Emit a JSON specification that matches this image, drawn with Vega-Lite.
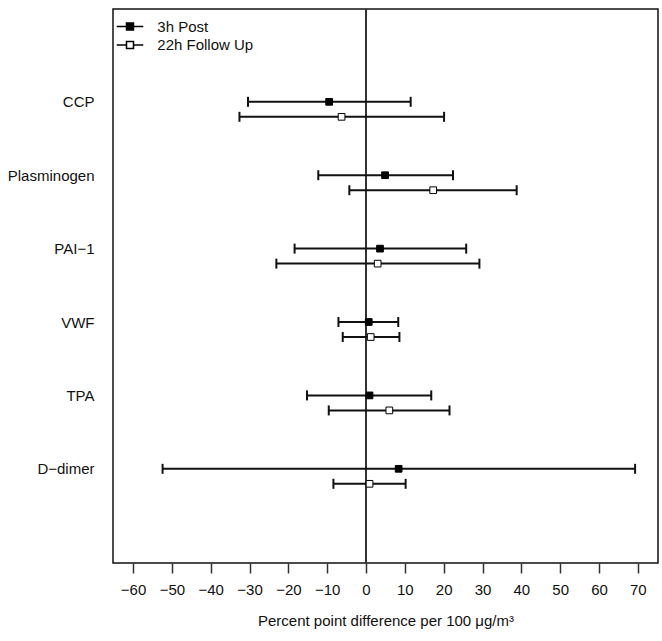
{
  "$schema": "https://vega.github.io/schema/vega-lite/v6.json",
  "width": 545,
  "height": 554,
  "autosize": {"type": "none"},
  "padding": {"left": 113, "top": 9, "right": 4, "bottom": 78},
  "background": "white",
  "config": {
    "font": "Liberation Sans",
    "view": {"stroke": "#111", "strokeWidth": 1.5},
    "axis": {"labelFont": "Liberation Sans", "titleFont": "Liberation Sans", "labelFontSize": 15, "titleFontSize": 15, "labelColor": "#111", "titleColor": "#111", "titleFontWeight": "normal", "grid": false}
  },
  "data": {
    "values": [
      {"marker": "CCP", "period": "3h Post", "est": -9.5, "lo": -30.4, "hi": 11.5},
      {"marker": "CCP", "period": "22h Follow Up", "est": -6.3, "lo": -32.6, "hi": 20.1},
      {"marker": "Plasminogen", "period": "3h Post", "est": 4.9, "lo": -12.3, "hi": 22.4},
      {"marker": "Plasminogen", "period": "22h Follow Up", "est": 17.3, "lo": -4.3, "hi": 38.8},
      {"marker": "PAI−1", "period": "3h Post", "est": 3.6, "lo": -18.4, "hi": 25.8},
      {"marker": "PAI−1", "period": "22h Follow Up", "est": 3.0, "lo": -23.1, "hi": 29.2},
      {"marker": "VWF", "period": "3h Post", "est": 0.7, "lo": -7.1, "hi": 8.3},
      {"marker": "VWF", "period": "22h Follow Up", "est": 1.2, "lo": -6.0, "hi": 8.6},
      {"marker": "TPA", "period": "3h Post", "est": 0.9, "lo": -15.2, "hi": 16.8},
      {"marker": "TPA", "period": "22h Follow Up", "est": 6.0, "lo": -9.6, "hi": 21.5},
      {"marker": "D−dimer", "period": "3h Post", "est": 8.4, "lo": -52.4, "hi": 69.3},
      {"marker": "D−dimer", "period": "22h Follow Up", "est": 0.9, "lo": -8.4, "hi": 10.2}
    ]
  },
  "layer": [
    {
      "mark": {"type": "rule", "color": "#333", "strokeWidth": 1.5},
      "encoding": {
        "x": {
          "datum": 0,
          "type": "quantitative",
          "scale": {"domain": [-65.17, 75.2], "nice": false, "zero": false},
          "axis": {
            "title": "Percent point difference per 100 μg/m³",
            "values": [-60, -55, -50, -45, -40, -35, -30, -25, -20, -15, -10, -5, 0, 5, 10, 15, 20, 25, 30, 35, 40, 45, 50, 55, 60, 65, 70],
            "domain": false,
            "tickSize": {"condition": {"test": "datum.value % 10 === 0", "value": 10}, "value": 5},
            "tickWidth": 1.5,
            "tickColor": "#333",
            "labelExpr": "datum.value % 10 === 0 ? datum.label : ''",
            "labelPadding": 9,
            "labelFlush": false,
            "labelOverlap": false,
            "labelBound": false,
            "titlePadding": 16
          }
        }
      }
    },
    {
      "mark": {"type": "rule", "color": "#111", "strokeWidth": 2},
      "encoding": {
        "x": {"field": "lo", "type": "quantitative"},
        "x2": {"field": "hi"},
        "y": {
          "field": "marker", "type": "nominal",
          "sort": ["CCP", "Plasminogen", "PAI−1", "VWF", "TPA", "D−dimer"],
          "scale": {"type": "band", "paddingInner": 0, "paddingOuter": 0.774, "align": 0.56},
          "axis": {"title": null, "ticks": false, "domain": false, "labelPadding": 19, "labelOffset": -7, "labelFontSize": 15}
        },
        "yOffset": {"field": "period", "type": "nominal", "sort": ["3h Post", "22h Follow Up"], "scale": {"type": "point", "range": [29.2, 44.2], "padding": 0}}
      }
    },
    {
      "mark": {"type": "point", "shape": "M0,-1V1", "size": 100, "stroke": "#111", "strokeWidth": 2, "filled": false, "opacity": 1},
      "encoding": {
        "x": {"field": "lo", "type": "quantitative"},
        "y": {"field": "marker", "type": "nominal", "sort": ["CCP", "Plasminogen", "PAI−1", "VWF", "TPA", "D−dimer"]},
        "yOffset": {"field": "period", "type": "nominal", "sort": ["3h Post", "22h Follow Up"]}
      }
    },
    {
      "mark": {"type": "point", "shape": "M0,-1V1", "size": 100, "stroke": "#111", "strokeWidth": 2, "filled": false, "opacity": 1},
      "encoding": {
        "x": {"field": "hi", "type": "quantitative"},
        "y": {"field": "marker", "type": "nominal", "sort": ["CCP", "Plasminogen", "PAI−1", "VWF", "TPA", "D−dimer"]},
        "yOffset": {"field": "period", "type": "nominal", "sort": ["3h Post", "22h Follow Up"]}
      }
    },
    {
      "mark": {"type": "point", "shape": "square", "size": 45, "filled": true, "stroke": "#000", "strokeWidth": 1, "opacity": 1},
      "encoding": {
        "x": {"field": "est", "type": "quantitative"},
        "y": {"field": "marker", "type": "nominal", "sort": ["CCP", "Plasminogen", "PAI−1", "VWF", "TPA", "D−dimer"]},
        "yOffset": {"field": "period", "type": "nominal", "sort": ["3h Post", "22h Follow Up"]},
        "fill": {
          "field": "period", "type": "nominal",
          "scale": {"domain": ["3h Post", "22h Follow Up"], "range": ["#000000", "#ffffff"]},
          "legend": {
            "title": null,
            "orient": "none",
            "legendX": 9.5,
            "legendY": 10,
            "symbolType": "M-3.8,0H-1M1,0H3.8M-1,-1H1V1H-1Z",
            "symbolSize": 49,
            "symbolStrokeColor": "#000",
            "symbolStrokeWidth": 1.5,
            "labelFontSize": 15,
            "labelFont": "Liberation Sans",
            "labelColor": "#111",
            "labelOffset": 19.8,
            "rowPadding": 2.6,
            "padding": 0,
            "symbolOffset": 0
          }
        }
      }
    }
  ]
}
